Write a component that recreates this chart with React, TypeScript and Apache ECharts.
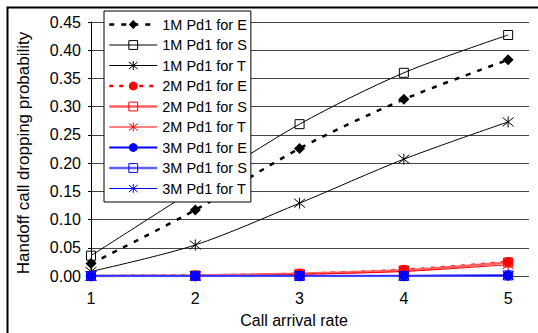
import React, { useEffect, useRef } from "react";
import * as echarts from "echarts";

const xValues = [1, 2, 3, 4, 5];
const yTicks = [0, 0.05, 0.1, 0.15, 0.2, 0.25, 0.3, 0.35, 0.4, 0.45];

const e1M = [0.022, 0.117, 0.226, 0.313, 0.383];
const s1M = [0.036, 0.154, 0.269, 0.36, 0.427];
const t1M = [0.008, 0.055, 0.129, 0.207, 0.273];
const e2M = [0.0, 0.001, 0.004, 0.011, 0.025];
const s2M = [0.0, 0.001, 0.004, 0.01, 0.024];
const t2M = [0.0, 0.0, 0.003, 0.008, 0.02];
const e3M = [0.0, 0.0, 0.0, 0.0, 0.001];
const s3M = [0.0, 0.0, 0.0, 0.0, 0.001];
const t3M = [0.0, 0.0, 0.0, 0.0, 0.001];

const seriesNames = [
  "1M Pd1 for E",
  "1M Pd1 for S",
  "1M Pd1 for T",
  "2M Pd1 for E",
  "2M Pd1 for S",
  "2M Pd1 for T",
  "3M Pd1 for E",
  "3M Pd1 for S",
  "3M Pd1 for T",
];

export default function App() {
  const ref = useRef<HTMLDivElement>(null);
  useEffect(() => {
    const chart = echarts.init(ref.current!, null, { renderer: "svg" });
    const font = "'Liberation Sans', Arial, sans-serif";
    const star = "path://M1,1L9,9M9,1L1,9M5,0L5,10";
    const black = "#000000";
    const red = "#ff0000";
    const lred = "#ff6060";
    const blue = "#0000ff";
    const lblue = "#6060ff";
    const styles: any[] = [
      { data: e1M, color: black, type: [5, 7], width: 2.5, symbol: "diamond", size: 11 },
      { data: s1M, color: black, type: "solid", width: 1, symbol: "rect", size: 9, hollow: true, bc: black },
      { data: t1M, color: black, type: "solid", width: 1, symbol: star, size: 11, stroke: true, bc: black },
      { data: e2M, color: red, type: [4, 6], width: 2.5, symbol: "circle", size: 10 },
      { data: s2M, color: lred, type: "solid", width: 2.5, symbol: "rect", size: 9, hollow: true, bc: red },
      { data: t2M, color: red, type: "solid", width: 1, symbol: star, size: 11, stroke: true, bc: red },
      { data: e3M, color: blue, type: "solid", width: 2, symbol: "circle", size: 10 },
      { data: s3M, color: lblue, type: "solid", width: 2.5, symbol: "rect", size: 9, hollow: true, bc: blue },
      { data: t3M, color: blue, type: "solid", width: 1, symbol: star, size: 11, stroke: true, bc: blue },
    ];
    const itemStyleOf = (s: any) =>
      s.hollow
        ? { color: "rgba(255,255,255,0)", borderWidth: 1, borderColor: s.bc }
        : s.stroke
        ? { color: s.bc, borderWidth: 1, borderColor: s.bc }
        : { color: s.color };
    const series = styles.map((s, idx) => ({
      name: seriesNames[idx],
      type: "line",
      data: xValues.map((x, i) => [x, s.data[i]]),
      smooth: 0.3,
      symbol: s.symbol,
      symbolSize: s.size,
      showAllSymbol: true,
      lineStyle: { color: s.color, width: s.width, type: s.type },
      itemStyle: itemStyleOf(s),
      emphasis: { disabled: true },
    }));
    const legendData = styles.map((s, idx) => ({
      name: seriesNames[idx],
      lineStyle: { width: s.width, color: s.color, type: s.type },
      itemStyle: itemStyleOf(s),
    }));
    chart.setOption({
      animation: false,
      grid: { left: 91, top: 22, right: 9, bottom: 57, containLabel: false },
      xAxis: {
        type: "value",
        min: 1,
        max: 5.2,
        interval: 1,
        axisLine: { show: false },
        axisTick: { show: false },
        splitLine: { show: false },
        axisLabel: {
          margin: 14,
          fontSize: 16,
          color: "#000",
          fontFamily: font,
          formatter: (v: number) => (Number.isInteger(v) ? String(v) : ""),
        },
      },
      yAxis: {
        type: "value",
        min: yTicks[0],
        max: yTicks[yTicks.length - 1],
        interval: 0.05,
        axisLine: { show: true, onZero: false, lineStyle: { color: "#000", width: 1 } },
        axisTick: { show: true, length: 3, inside: false, lineStyle: { color: "#000" } },
        splitLine: { show: true, lineStyle: { color: "#444", width: 1 } },
        axisLabel: {
          margin: 10,
          fontSize: 16,
          color: "#000",
          fontFamily: font,
          formatter: (v: number) => v.toFixed(2),
        },
      },
      legend: {
        orient: "vertical",
        left: 104,
        top: 11,
        itemWidth: 48,
        itemHeight: 11,
        itemGap: 5.5,
        padding: [6, 4, 6, 4],
        backgroundColor: "#fff",
        borderColor: "#000",
        borderWidth: 1,
        borderRadius: 0,
        data: legendData,
        textStyle: { fontSize: 14.5, color: "#000", fontFamily: font },
      },
      graphic: [
        {
          type: "rect",
          shape: { x: 7.5, y: 7.5, width: 700, height: 500 },
          style: { fill: "none", stroke: "#000", lineWidth: 2 },
          silent: true,
        },
        {
          type: "text",
          x: 294,
          y: 320,
          style: {
            text: "Call arrival rate",
            fontSize: 16,
            fontFamily: font,
            fill: "#000",
            align: "center",
            verticalAlign: "middle",
          },
        },
        {
          type: "text",
          x: 23,
          y: 153,
          rotation: Math.PI / 2,
          style: {
            text: "Handoff call dropping probability",
            fontSize: 17,
            fontFamily: font,
            fill: "#000",
            align: "center",
            verticalAlign: "middle",
          },
        },
      ],
      series,
    });
    return () => chart.dispose();
  }, []);
  return (
    <div
      ref={ref}
      style={{ position: "fixed", left: 0, top: 0, width: 538, height: 333, background: "#fff" }}
    />
  );
}
